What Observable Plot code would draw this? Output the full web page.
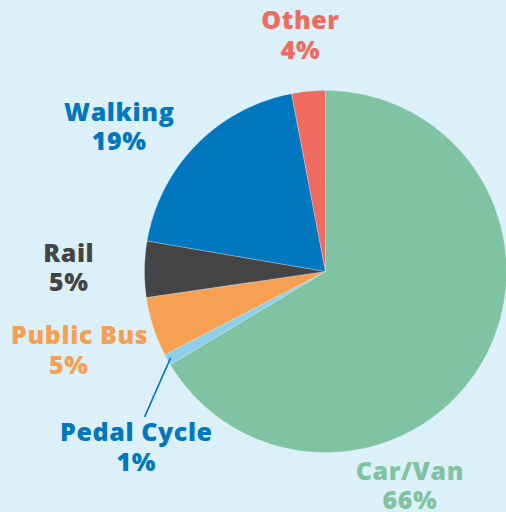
<!DOCTYPE html>
<html>
<head>
<meta charset="utf-8">
<script src="https://cdn.jsdelivr.net/npm/d3@7"></script>
<script src="https://cdn.jsdelivr.net/npm/@observablehq/plot@0.6"></script>
<style>
  html, body { margin: 0; padding: 0; background: #dcf0f9; overflow: hidden; }
  #chart { width: 506px; height: 512px; }
  #chart svg text { letter-spacing: 0.6px; }
</style>
</head>
<body>
<div id="chart"></div>
<script>
// ---- data ----
const categories = ["Car/Van", "Pedal Cycle", "Public Bus", "Rail", "Walking", "Other"];
const shares = [66.4, 1.0, 5.3, 5.0, 19.3, 3.0];
const valueLabels = ["66%", "1%", "5%", "5%", "19%", "4%"];
const sliceColors = ["#80c3a2", "#8ecfe9", "#f5a052", "#444444", "#0077be", "#ef6b5f"];
const labelColors = ["#80c3a2", "#0077be", "#f5a052", "#444444", "#0077be", "#ef6b5f"];

// ---- layout ----
const W = 506, H = 512, R = 181, CX = 325, CY = 271;
const BG = "#dcf0f9";
const labelRadius = 1.38;
const nudge = [[-133, 92], [29, 55], [-19, 3], [-7, 0], [-28, 31], [-1.5, 13]];
const nameShift = [0, 0, 11, 0, 0, 0];
const halfGap = 14.75;

const rows = categories.map((c, i) => ({cat: c, share: shares[i], i}));
const arcs = d3.pie().sort(null).value(d => d.share)(rows);

const slicePts = arcs.flatMap(p => {
  const cat = p.data.cat;
  const pts = [{cat, x: 0, y: 0}];
  const n = Math.max(4, Math.ceil((p.endAngle - p.startAngle) / (Math.PI / 360)));
  for (let k = 0; k <= n; k++) {
    const a = p.startAngle + (p.endAngle - p.startAngle) * k / n;
    pts.push({cat, x: Math.sin(a), y: Math.cos(a)});
  }
  pts.push({cat, x: 0, y: 0});
  return pts;
});

const labelRows = arcs.map(p => {
  const mid = (p.startAngle + p.endAngle) / 2;
  return {
    i: p.data.i,
    cat: p.data.cat,
    value: valueLabels[p.data.i],
    mid,
    x: labelRadius * Math.sin(mid),
    y: labelRadius * Math.cos(mid)
  };
});

const textMarks = labelRows.flatMap(d => [
  Plot.text([d], {
    x: "x", y: "y", text: "cat",
    dx: nudge[d.i][0] + nameShift[d.i], dy: nudge[d.i][1] - halfGap,
    fill: labelColors[d.i], fontSize: 25, fontWeight: 800, lineAnchor: "middle"
  }),
  Plot.text([d], {
    x: "x", y: "y", text: "value",
    dx: nudge[d.i][0], dy: nudge[d.i][1] + halfGap,
    fill: labelColors[d.i], fontSize: 25, fontWeight: 800, lineAnchor: "middle"
  })
]);

const pedal = labelRows[1];
const leader = [{
  x1: 0.98 * Math.sin(pedal.mid),
  y1: 0.98 * Math.cos(pedal.mid),
}];
leader[0].x2 = leader[0].x1 - 26 / R;
leader[0].y2 = leader[0].y1 - 59 / R;

const chart = Plot.plot({
  width: W,
  height: H,
  margin: 0,
  style: {background: BG, fontFamily: "'Open Sans', sans-serif"},
  x: {domain: [-CX / R, (W - CX) / R], axis: null},
  y: {domain: [-(H - CY) / R, CY / R], axis: null},
  color: {domain: categories, range: sliceColors},
  marks: [
    Plot.line(slicePts, {x: "x", y: "y", z: "cat", fill: "cat", stroke: BG, strokeWidth: 0.5, strokeOpacity: 0.6}),
    Plot.link(leader, {x1: "x1", y1: "y1", x2: "x2", y2: "y2", stroke: "#0077be", strokeWidth: 1.6}),
    ...textMarks
  ]
});
document.getElementById("chart").appendChild(chart);
</script>
</body>
</html>
